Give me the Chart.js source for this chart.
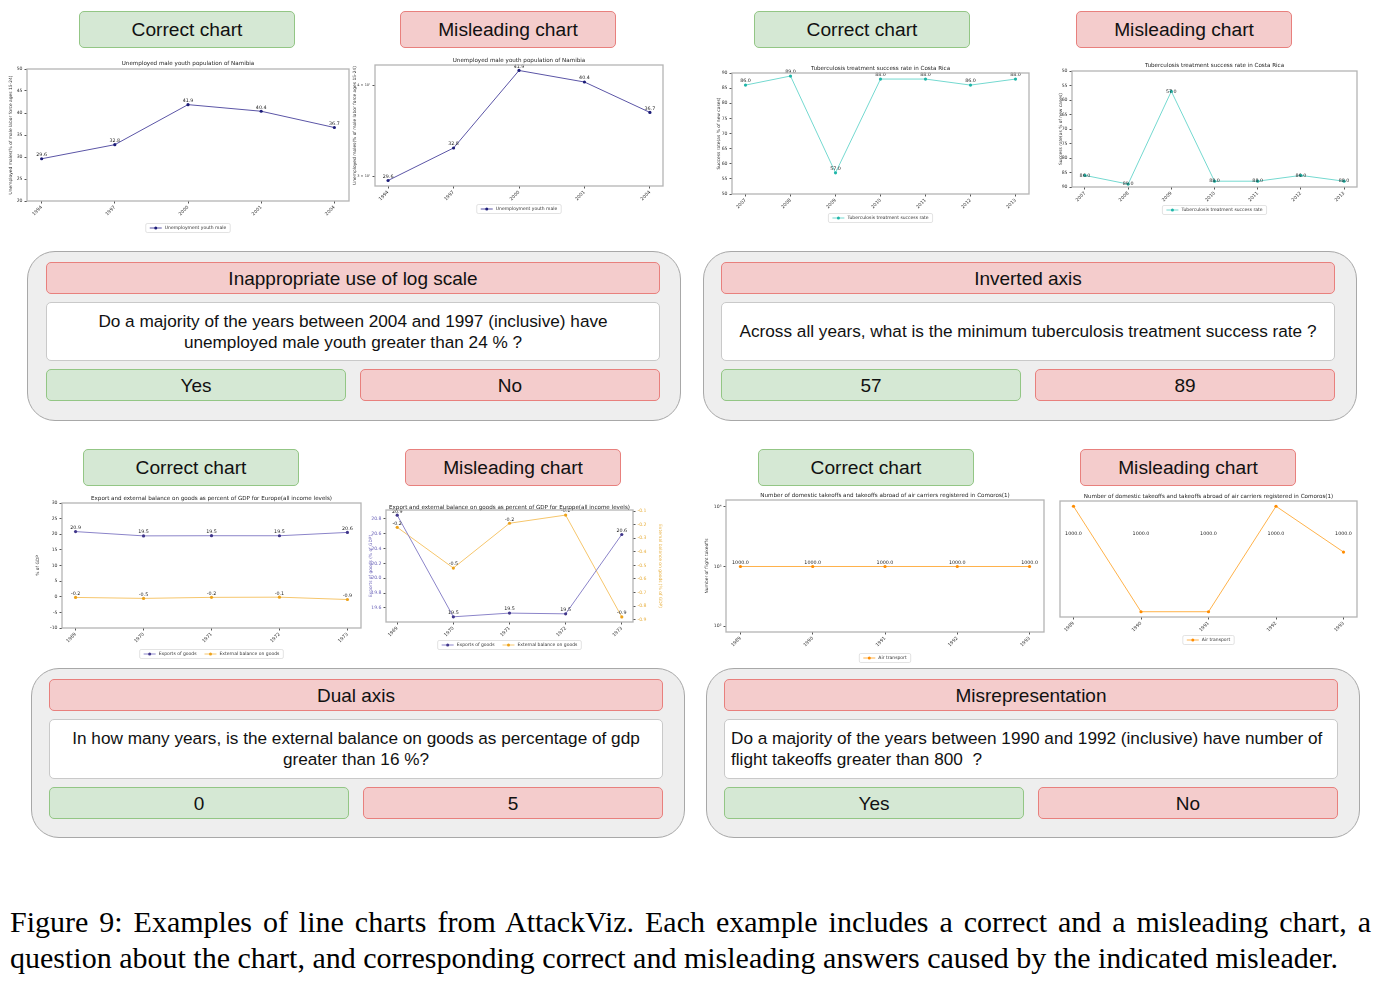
<!DOCTYPE html>
<html>
<head>
<meta charset="utf-8">
<script src="https://cdn.jsdelivr.net/npm/chart.js@4.4.0/dist/chart.umd.min.js"></script>
<style>
  body { margin: 0; background: #fff; }
  #page { position: relative; width: 1381px; height: 986px; font-family: "Liberation Sans", Arial, sans-serif; color: #111; overflow: hidden; }
  .b { position: absolute; box-sizing: border-box; display: flex; align-items: center; justify-content: center; border-radius: 5px; text-align: center; }
  .hd { font-size: 19.2px; width: 216px; height: 37px; padding-top: 1px; }
  .g { background: #d5e8d4; border: 1px solid #93c685; }
  .r { background: #f4cccc; border: 1px solid #e8807d; }
  .w { background: #fff; border: 1px solid #c9c9c9; font-size: 17.2px; line-height: 21px; }
  .t { font-size: 19px; height: 32px; width: 614px; padding-top: 1px; }
  .a { font-size: 19px; height: 32px; width: 300px; padding-top: 1px; }
  .grp { position: absolute; box-sizing: border-box; background: #eeeeee; border: 1px solid #a8a8a8; border-radius: 28px; width: 654px; height: 170px; }
  .c { position: absolute; }
  #cap { position: absolute; left: 10px; top: 904px; width: 1361px; font-family: "Liberation Serif", "Times New Roman", serif; font-size: 30px; line-height: 36px; color: #000; }
  #cap .l1 { text-align: justify; text-align-last: justify; }
</style>
</head>
<body>
<div id="page">
  <!-- top left -->
  <div class="b hd g" style="left:79px;top:11px">Correct chart</div>
  <div class="b hd r" style="left:400px;top:11px">Misleading chart</div>
  <div class="c" style="left:5px;top:59px;width:348px;height:177px"><canvas id="c1"></canvas></div>
  <div class="c" style="left:351px;top:56px;width:316px;height:160px"><canvas id="c2"></canvas></div>
  <div class="grp" style="left:27px;top:251px"></div>
  <div class="b t r" style="left:46px;top:262px">Inappropriate use of log scale</div>
  <div class="b w" style="left:46px;top:302px;width:614px;height:59px">Do a majority of the years between 2004 and 1997 (inclusive) have<br>unemployed male youth greater than 24 % ?</div>
  <div class="b a g" style="left:46px;top:369px">Yes</div>
  <div class="b a r" style="left:360px;top:369px">No</div>

  <!-- top right -->
  <div class="b hd g" style="left:754px;top:11px">Correct chart</div>
  <div class="b hd r" style="left:1076px;top:11px">Misleading chart</div>
  <div class="c" style="left:702px;top:63px;width:331px;height:163px"><canvas id="c3"></canvas></div>
  <div class="c" style="left:1042px;top:61px;width:319px;height:156px"><canvas id="c4"></canvas></div>
  <div class="grp" style="left:703px;top:251px"></div>
  <div class="b t r" style="left:721px;top:262px">Inverted axis</div>
  <div class="b w" style="left:721px;top:302px;width:614px;height:59px">Across all years, what is the minimum tuberculosis treatment success rate ?</div>
  <div class="b a g" style="left:721px;top:369px">57</div>
  <div class="b a r" style="left:1035px;top:369px">89</div>

  <!-- bottom left -->
  <div class="b hd g" style="left:83px;top:449px">Correct chart</div>
  <div class="b hd r" style="left:405px;top:449px">Misleading chart</div>
  <div class="c" style="left:32px;top:493px;width:333px;height:167px"><canvas id="c5"></canvas></div>
  <div class="c" style="left:366px;top:502px;width:301px;height:150px"><canvas id="c6"></canvas></div>
  <div class="grp" style="left:31px;top:668px"></div>
  <div class="b t r" style="left:49px;top:679px">Dual axis</div>
  <div class="b w" style="left:49px;top:719px;width:614px;height:60px">In how many years, is the external balance on goods as percentage of gdp<br>greater than 16 %?</div>
  <div class="b a g" style="left:49px;top:787px">0</div>
  <div class="b a r" style="left:363px;top:787px">5</div>

  <!-- bottom right -->
  <div class="b hd g" style="left:758px;top:449px">Correct chart</div>
  <div class="b hd r" style="left:1080px;top:449px">Misleading chart</div>
  <div class="c" style="left:698px;top:490px;width:350px;height:174px"><canvas id="c7"></canvas></div>
  <div class="c" style="left:1054px;top:491px;width:307px;height:156px"><canvas id="c8"></canvas></div>
  <div class="grp" style="left:706px;top:668px"></div>
  <div class="b t r" style="left:724px;top:679px">Misrepresentation</div>
  <div class="b w" style="left:724px;top:719px;width:614px;height:60px;justify-content:flex-start;text-align:left;padding-left:6px">Do a majority of the years between 1990 and 1992 (inclusive) have number of<br>flight takeoffs greater than 800&nbsp; ?</div>
  <div class="b a g" style="left:724px;top:787px">Yes</div>
  <div class="b a r" style="left:1038px;top:787px">No</div>

  <div id="cap">
    <div class="l1">Figure 9: Examples of line charts from AttackViz. Each example includes a correct and a misleading chart, a</div>
    <div>question about the chart, and corresponding correct and misleading answers caused by the indicated misleader.</div>
  </div>
</div>

<script>
// --- data ---
const namibiaYears = ['1994', '1997', '2000', '2001', '2004'];
const namibiaMale = [29.6, 32.8, 41.9, 40.4, 36.7];

const tbYears = ['2007', '2008', '2009', '2010', '2011', '2012', '2013'];
const tbRate = [86, 89, 57, 88, 88, 86, 88];

const europeYears = ['1969', '1970', '1971', '1972', '1973'];
const europeExports = [20.85, 19.48, 19.53, 19.52, 20.59];
const europeBalance = [-0.22, -0.52, -0.19, -0.13, -0.88];

const comorosYears = ['1989', '1990', '1991', '1992', '1993'];
const comorosTakeoffs = [1000, 1000, 1000, 1000, 1000];
// heights actually drawn in the misleading version (labels still say 1000.0)
const comorosDrawn = [1000, 0, 0, 1000, 566];

const europeLeftTicks = [19.6, 19.8, 20.0, 20.2, 20.4, 20.6, 20.8];
const europeRightTicks = [-0.9, -0.8, -0.7, -0.6, -0.5, -0.4, -0.3, -0.2, -0.1];

const FONT = '"DejaVu Sans", sans-serif';
const TXT = '#333';

// matplotlib-ish x axis: category positions 0..n-1 with 5% margins
function xAxis(labels, B) {
  const m = 0.05 * (labels.length - 1);
  return {
    type: 'linear', min: -m, max: labels.length - 1 + m,
    afterBuildTicks: s => { s.ticks = labels.map((_, i) => ({ value: i })) },
    afterFit: s => { s.height = B },
    ticks: { callback: v => labels[v], font: { family: FONT, size: 4.7 }, color: TXT,
             minRotation: 45, maxRotation: 45, autoSkip: false, padding: 1 },
    grid: { drawOnChartArea: false, tickLength: 2.5, color: '#555' },
    border: { display: false }
  };
}

function yAxis(o) {
  return {
    type: o.type || 'linear', position: o.pos || 'left', min: o.min, max: o.max, reverse: !!o.reverse,
    display: o.display !== false,
    afterFit: s => { s.width = o.w },
    afterBuildTicks: o.ticks ? s => { s.ticks = o.ticks.map(v => ({ value: v })) } : undefined,
    ticks: { stepSize: o.step, callback: o.fmt || (v => v), font: { family: FONT, size: o.fs || 4.6 },
             color: o.color || TXT, padding: 2, autoSkip: false },
    grid: { drawOnChartArea: false, tickLength: 2.5, color: '#555' },
    border: { display: false },
    title: { display: !!o.title, text: o.title, color: o.color || TXT,
             font: { family: FONT, size: 4.4 }, padding: { top: o.tp || 2, bottom: 0 } }
  };
}

function series(label, vals, line, point, extra) {
  return Object.assign({
    label, data: vals.map((v, i) => ({ x: i, y: v })),
    borderColor: line, borderWidth: 1, pointBackgroundColor: point, pointBorderColor: point,
    pointRadius: 1.6, pointBorderWidth: 0, tension: 0
  }, extra || {});
}

// frame, title and legend drawn the way matplotlib does
const decor = {
  id: 'decor',
  afterDraw(chart, args, o) {
    const { ctx, chartArea: a } = chart;
    ctx.save();
    ctx.strokeStyle = '#b4b4b4';
    ctx.lineWidth = 1.3;
    ctx.strokeRect(a.left, a.top, a.right - a.left, a.bottom - a.top);

    const cx = (a.left + a.right) / 2;
    ctx.fillStyle = '#222';
    ctx.font = '5.6px ' + FONT;
    ctx.textAlign = 'center';
    ctx.textBaseline = 'middle';
    ctx.fillText(o.title, cx, a.top - o.titleDy);

    // legend
    ctx.font = '4.5px ' + FONT;
    const items = chart.data.datasets.map(d => ({ d, w: ctx.measureText(d.label).width }));
    const itemW = items.map(it => 12 + 3 + it.w);
    const total = itemW.reduce((s, w) => s + w, 0) + 8 * (items.length - 1) + 8;
    const ly = a.bottom + o.legendDy;
    let x = cx - total / 2;
    ctx.fillStyle = '#fff';
    ctx.strokeStyle = '#d0d0d0';
    ctx.lineWidth = 0.6;
    ctx.beginPath();
    ctx.roundRect(x, ly - 4.5, total, 9, 1.5);
    ctx.fill(); ctx.stroke();
    x += 4;
    items.forEach((it, i) => {
      ctx.strokeStyle = it.d.borderColor;
      ctx.lineWidth = 1;
      ctx.beginPath(); ctx.moveTo(x, ly); ctx.lineTo(x + 12, ly); ctx.stroke();
      ctx.fillStyle = it.d.pointBackgroundColor;
      ctx.beginPath(); ctx.arc(x + 6, ly, 1.5, 0, Math.PI * 2); ctx.fill();
      ctx.fillStyle = TXT;
      ctx.textAlign = 'left';
      ctx.fillText(it.d.label, x + 15, ly + 0.3);
      x += itemW[i] + 8;
    });
    ctx.restore();
  }
};

// value labels next to the markers
const valueLabels = {
  id: 'valueLabels',
  afterDatasetsDraw(chart, args, o) {
    const { ctx, chartArea: a } = chart;
    ctx.save();
    ctx.font = '4.8px ' + FONT;
    ctx.fillStyle = '#222';
    ctx.textAlign = 'center';
    chart.data.datasets.forEach((d, di) => {
      const shown = d.shown || d.data.map(p => p.y);
      chart.getDatasetMeta(di).data.forEach((pt, i) => {
        const txt = shown[i].toFixed(1);
        if (o.mode === 'center') {
          ctx.textBaseline = 'middle';
          ctx.fillText(txt, pt.x, pt.y);
        } else if (o.mode === 'fixed') {
          ctx.textBaseline = 'middle';
          ctx.fillText(txt, pt.x, a.top + o.frac * (a.bottom - a.top));
        } else {
          ctx.textBaseline = 'bottom';
          ctx.fillText(txt, pt.x, pt.y - 1.5);
        }
      });
    });
    ctx.restore();
  }
};

function make(id, datasets, scales, pad, deco, labels) {
  return new Chart(document.getElementById(id), {
    type: 'line',
    data: { datasets },
    options: {
      responsive: true, maintainAspectRatio: false, animation: false,
      layout: { padding: pad },
      scales,
      plugins: { legend: { display: false }, tooltip: { enabled: false }, title: { display: false },
                 decor: deco, valueLabels: labels || {} }
    },
    plugins: [decor, valueLabels]
  });
}

const namibiaTitle = 'Unemployed male youth population of Namibia';
const namibiaAxis = 'Unemployed males(% of male labor force ages 15-24)';
const tbTitle = 'Tuberculosis treatment success rate in Costa Rica';
const tbAxis = 'Success rate(as % of new cases)';
const europeTitle = 'Export and external balance on goods as percent of GDP for Europe(all income levels)';
const comorosTitle = 'Number of domestic takeoffs and takeoffs abroad of air carriers registered in Comoros(1)';

const sup = { 100: '10²', 1000: '10³', 10000: '10⁴' };

// 1. Namibia, linear
make('c1',
  [series('Unemployment youth male', namibiaMale, '#5b55a6', '#1c1c78')],
  { x: xAxis(namibiaYears, 35),
    y: yAxis({ min: 20, max: 50, step: 5, w: 22, title: namibiaAxis, tp: 3 }) },
  { top: 10, right: 3, left: 0, bottom: 0 },
  { title: namibiaTitle, titleDy: 5, legendDy: 27 });

// 2. Namibia, log scale
make('c2',
  [series('Unemployment youth male', namibiaMale, '#5b55a6', '#1c1c78')],
  { x: xAxis(namibiaYears, 30),
    y: yAxis({ type: 'logarithmic', min: 29.09, max: 42.63, ticks: [30, 40], w: 24, fs: 3.5,
               fmt: v => (v === 30 ? '3 × 10¹' : v === 40 ? '4 × 10¹' : ''), title: namibiaAxis, tp: 1.5 }) },
  { top: 9, right: 4, left: 0, bottom: 0 },
  { title: namibiaTitle, titleDy: 4, legendDy: 23 });

// 3. TB, normal axis
make('c3',
  [series('Tuberculosis treatment success rate', tbRate, '#74d9d0', '#1fb5a8')],
  { x: xAxis(tbYears, 32),
    y: yAxis({ min: 50, max: 90, step: 5, w: 30, title: tbAxis, tp: 14 }) },
  { top: 10, right: 4, left: 0, bottom: 0 },
  { title: tbTitle, titleDy: 4, legendDy: 24 });

// 4. TB, inverted axis
make('c4',
  [series('Tuberculosis treatment success rate', tbRate, '#74d9d0', '#1fb5a8')],
  { x: xAxis(tbYears, 30),
    y: yAxis({ min: 50, max: 90, step: 5, reverse: true, w: 30, title: tbAxis, tp: 16 }) },
  { top: 10, right: 4, left: 0, bottom: 0 },
  { title: tbTitle, titleDy: 5, legendDy: 23 },
  { mode: 'center' });

// 5. Europe, single axis
make('c5',
  [series('Exports of goods', europeExports, '#8b84c9', '#40368a'),
   series('External balance on goods', europeBalance, '#f6c66c', '#eda21a')],
  { x: xAxis(europeYears, 32),
    y: yAxis({ min: -10, max: 30, step: 5, w: 30, title: '% of GDP', tp: 3 }) },
  { top: 10, right: 4, left: 0, bottom: 0 },
  { title: europeTitle, titleDy: 4, legendDy: 26 });

// 6. Europe, dual axis
make('c6',
  [series('Exports of goods', europeExports, '#8b84c9', '#40368a', { yAxisID: 'y' }),
   series('External balance on goods', europeBalance, '#f6c66c', '#eda21a', { yAxisID: 'y2' })],
  { x: xAxis(europeYears, 30),
    y: yAxis({ min: 19.41, max: 20.92, ticks: europeLeftTicks, fmt: v => v.toFixed(1), w: 20,
               color: '#6a62b8', title: 'Exports of goods (% of GDP)', tp: 2 }),
    y2: yAxis({ pos: 'right', min: -0.9175, max: -0.0925, ticks: europeRightTicks, fmt: v => v.toFixed(1),
                w: 34, color: '#e8b040', title: 'External balance on goods (% of GDP)', tp: 4 }) },
  { top: 8, right: 0, left: 0, bottom: 0 },
  { title: europeTitle, titleDy: 2, legendDy: 23 });

// 7. Comoros, log axis
make('c7',
  [series('Air transport', comorosTakeoffs, '#ffb24a', '#ff8c00')],
  { x: xAxis(comorosYears, 32),
    y: yAxis({ type: 'logarithmic', min: 79.4, max: 13090, ticks: [100, 1000, 10000], fmt: v => sup[v] || '',
               w: 28, title: 'Number of flight takeoffs', tp: 6 }) },
  { top: 10, right: 4, left: 0, bottom: 0 },
  { title: comorosTitle, titleDy: 4, legendDy: 26 });

// 8. Comoros, misrepresented
make('c8',
  [series('Air transport', comorosDrawn, '#ffb24a', '#ff8c00', { shown: comorosTakeoffs })],
  { x: xAxis(comorosYears, 30),
    y: yAxis({ min: -50, max: 1050, w: 0, display: false }) },
  { top: 10, right: 4, left: 6, bottom: 0 },
  { title: comorosTitle, titleDy: 4, legendDy: 23 },
  { mode: 'fixed', frac: 0.28 });
</script>
</body>
</html>
